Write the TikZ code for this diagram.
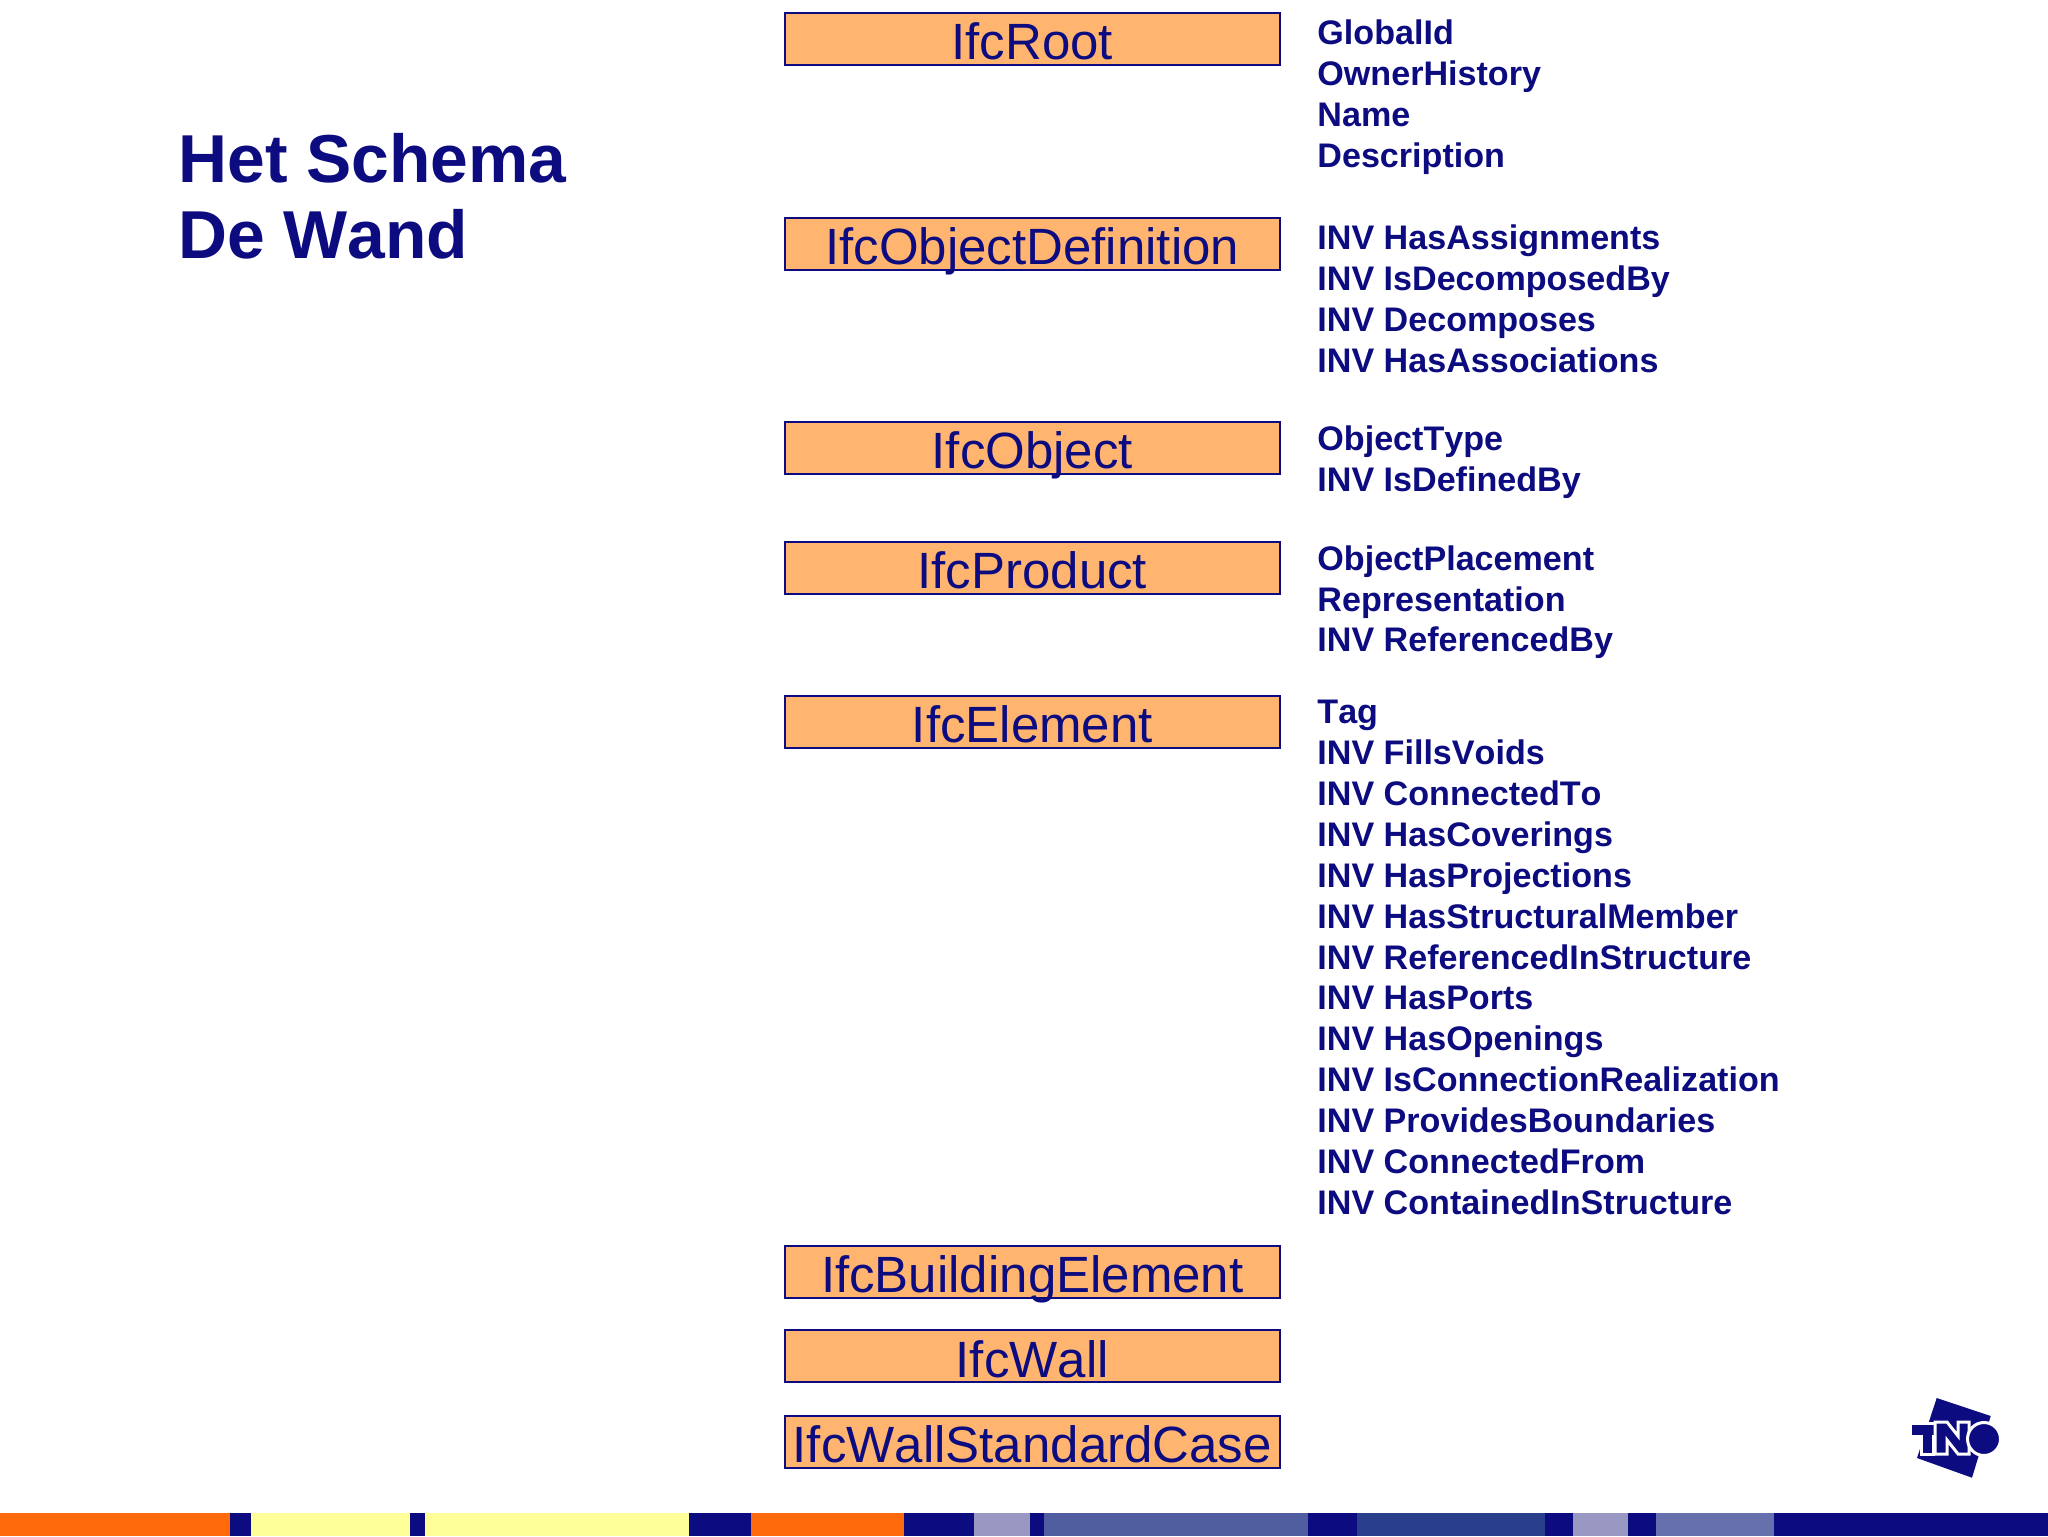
\documentclass[tikz,border=0pt]{standalone}
\usepackage{fontspec}
\setmainfont[Kerning=Off]{Liberation Sans}
\definecolor{navy}{HTML}{0C0C80}
\definecolor{boxfill}{HTML}{FFB56F}
\definecolor{barorange}{HTML}{FF6A0D}
\definecolor{baryellow}{HTML}{FFFF99}
\definecolor{barlilac}{HTML}{9898C2}
\definecolor{barblue}{HTML}{505D9E}
\definecolor{bardark}{HTML}{2A3F8C}
\definecolor{barmid}{HTML}{6570AC}
\tikzset{
classbox/.style={draw=navy,fill=boxfill,line width=1pt,minimum width=247.6pt,minimum height=26pt,inner sep=0pt,text height=23.3pt,text depth=2.7pt,text=navy,font=\fontsize{25.5}{26}\selectfont},
attrlist/.style={anchor=north west,inner sep=0pt,align=left,text=navy,font=\fontsize{17.05}{20.47}\selectfont\bfseries},
logoletter/.style={fill=navy,draw=white,line width=1.5pt},
}
\begin{document}
\begin{tikzpicture}[x=0.5pt,y=-0.5pt]
\useasboundingbox (0,0) rectangle (2048,1536);
\fill[white] (0,0) rectangle (2048,1536);
% title
\node[anchor=north west,inner sep=0pt,align=left,text=navy,font=\fontsize{33.9}{38}\selectfont\bfseries] (title) at (178,133) {Het Schema\\De Wand};
% classes
\node[classbox] (root) at (1032.3,38.7) {IfcRoot};
\node[classbox] (objdef) at (1032.3,243.5) {IfcObjectDefinition};
\node[classbox] (obj) at (1032.3,448.3) {IfcObject};
\node[classbox] (prod) at (1032.3,567.8) {IfcProduct};
\node[classbox] (elem) at (1032.3,721.6) {IfcElement};
\node[classbox] (build) at (1032.3,1271.5) {IfcBuildingElement};
\node[classbox] (wall) at (1032.3,1356.4) {IfcWall};
\node[classbox] (wallstd) at (1032.3,1442) {IfcWallStandardCase};
% attributes
\node[attrlist] (rootattr) at (1317,19.6) {GlobalId\\OwnerHistory\\Name\\Description};
\node[attrlist] (objdefattr) at (1317,224.5) {INV HasAssignments\\INV IsDecomposedBy\\INV Decomposes\\INV HasAssociations};
\node[attrlist] (objattr) at (1317,425.4) {ObjectType\\INV IsDefinedBy};
\node[attrlist] (prodattr) at (1317,545) {ObjectPlacement\\Representation\\INV ReferencedBy};
\node[attrlist] (elemattr) at (1317,699.5) {Tag\\INV FillsVoids\\INV ConnectedTo\\INV HasCoverings\\INV HasProjections\\INV HasStructuralMember\\INV ReferencedInStructure\\INV HasPorts\\INV HasOpenings\\INV IsConnectionRealization\\INV ProvidesBoundaries\\INV ConnectedFrom\\INV ContainedInStructure};
% logo
\fill[navy] (1936.7,1398) -- (1990.7,1416) -- (1972,1477.7) -- (1917,1458) -- cycle;
\fill[logoletter] (1910,1423) -- (1935,1423) -- (1935,1436) -- (1933,1436) -- (1933,1454) -- (1921,1454) -- (1921,1436) -- (1910,1436) -- cycle;
\fill[logoletter] (1935,1454) -- (1935,1422) -- (1947,1422) -- (1958,1436) -- (1958,1422) -- (1969,1422) -- (1969,1454) -- (1958,1454) -- (1947,1440) -- (1947,1454) -- cycle;
\fill[logoletter] (1984,1439) circle (16.5);
% bottom bar
\fill[navy] (0,1513) rectangle (2048,1536);
\fill[barorange] (0,1513) rectangle (230,1536);
\fill[baryellow] (251,1513) rectangle (410,1536);
\fill[baryellow] (425,1513) rectangle (689,1536);
\fill[barorange] (751,1513) rectangle (904,1536);
\fill[barlilac] (974,1513) rectangle (1030,1536);
\fill[barblue] (1044,1513) rectangle (1308,1536);
\fill[bardark] (1357,1513) rectangle (1545,1536);
\fill[barlilac] (1573,1513) rectangle (1628,1536);
\fill[barmid] (1656,1513) rectangle (1774,1536);
\end{tikzpicture}
\end{document}
